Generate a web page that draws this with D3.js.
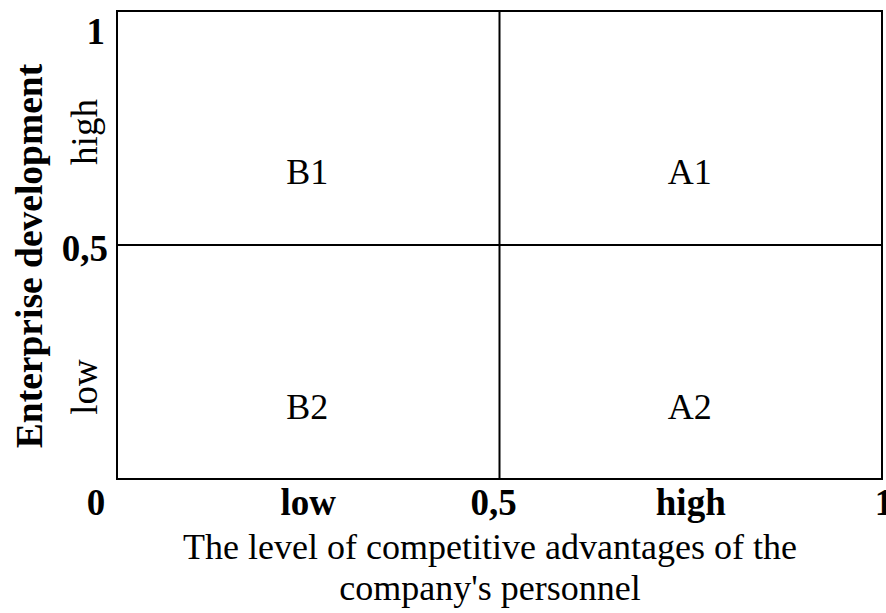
<!DOCTYPE html>
<html><head><meta charset="utf-8">
<script src="https://cdn.jsdelivr.net/npm/d3@7"></script>
<style>body{margin:0;background:#fff}svg{display:block}text{font-family:"Liberation Serif","Times New Roman",serif}</style>
</head><body>
<svg id="c" width="886" height="613"></svg>
<script>
const xTicks = [0, 0.5, 1];
const xTickLabels = ["0", "0,5", "1"];
const yTicks = [0.5, 1];
const yTickLabels = ["0,5", "1"];
const xLevels = [0.25, 0.75];
const xLevelLabels = ["low", "high"];
const yLevels = [0.25, 0.75];
const yLevelLabels = ["low", "high"];
const quadrants = [
  {x: 0.25, y: 0.75, label: "B1"},
  {x: 0.75, y: 0.75, label: "A1"},
  {x: 0.25, y: 0.25, label: "B2"},
  {x: 0.75, y: 0.25, label: "A2"}
];
const xTitle = ["The level of competitive advantages of the", "company's personnel"];
const yTitle = "Enterprise development";

const svg = d3.select("#c");
const x = d3.scaleLinear().domain([0, 1]).range([117, 882]);
const y = d3.scaleLinear().domain([0, 1]).range([479, 11]);

// box
svg.append("rect").attr("x", x(0)).attr("y", y(1))
  .attr("width", x(1) - x(0)).attr("height", y(0) - y(1))
  .attr("fill", "none").attr("stroke", "#000").attr("stroke-width", 2);
// midlines
svg.append("line").attr("x1", x(0.5)).attr("x2", x(0.5)).attr("y1", y(0)).attr("y2", y(1))
  .attr("stroke", "#000").attr("stroke-width", 2);
svg.append("line").attr("x1", x(0)).attr("x2", x(1)).attr("y1", y(0.5)).attr("y2", y(0.5))
  .attr("stroke", "#000").attr("stroke-width", 2);

// x tick labels
const xOff = [-21, -6, 2];
svg.selectAll(".xt").data(xTicks).enter().append("text")
  .attr("x", (d, i) => x(d) + xOff[i])
  .attr("y", 515).attr("text-anchor", "middle")
  .attr("font-size", 37).attr("font-weight", "bold")
  .text((d, i) => xTickLabels[i]);
svg.selectAll(".xl").data(xLevels).enter().append("text")
  .attr("x", (d) => x(d)).attr("y", 515).attr("text-anchor", "middle")
  .attr("font-size", 37).attr("font-weight", "bold")
  .text((d, i) => xLevelLabels[i]);

// y tick labels
svg.selectAll(".yt").data(yTicks).enter().append("text")
  .attr("x", (d) => d === 1 ? 105 : 108)
  .attr("y", (d) => d === 1 ? y(d) + 33 : y(d) + 16)
  .attr("text-anchor", "end")
  .attr("font-size", 37).attr("font-weight", "bold")
  .text((d, i) => yTickLabels[i]);

// y level labels rotated
const yLevelPos = [387, 132];
svg.selectAll(".yl").data(yLevels).enter().append("text")
  .attr("transform", (d, i) => `translate(97,${yLevelPos[i] + (y(d) - y(d))}) rotate(-90)`)
  .attr("text-anchor", "middle")
  .attr("font-size", 37)
  .text((d, i) => yLevelLabels[i]);

// y title
svg.append("text").attr("transform", `translate(42,${(y(0) + y(1)) / 2 + 11}) rotate(-90)`)
  .attr("text-anchor", "middle").attr("font-size", 37.5).attr("font-weight", "bold")
  .text(yTitle);

// quadrant labels
svg.selectAll(".q").data(quadrants).enter().append("text")
  .attr("x", (d) => x(d.x) - 1)
  .attr("y", (d) => d.y > 0.5 ? 184 : 419)
  .attr("text-anchor", "middle").attr("font-size", 36)
  .text((d) => d.label);

// x title
svg.selectAll(".xtitle").data(xTitle).enter().append("text")
  .attr("x", 490).attr("y", (d, i) => 559 + i * 41)
  .attr("text-anchor", "middle").attr("font-size", 36)
  .text((d) => d);
</script>
</body></html>
